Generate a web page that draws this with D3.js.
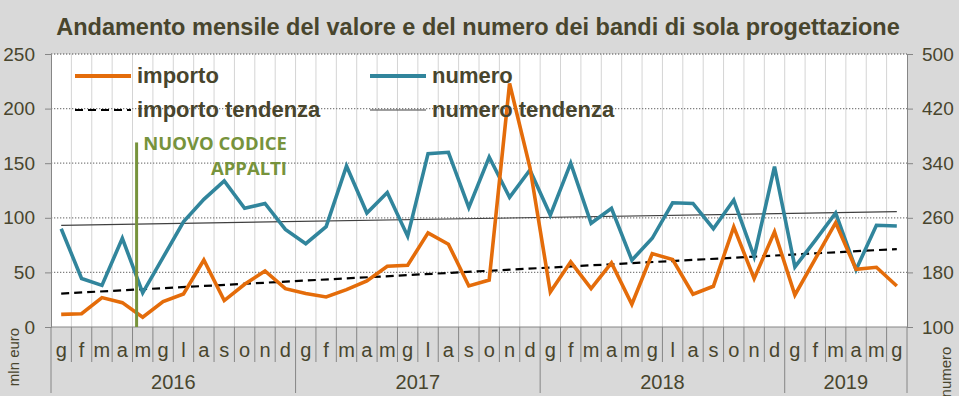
<!DOCTYPE html>
<html>
<head>
<meta charset="utf-8">
<script src="https://cdn.jsdelivr.net/npm/d3@7"></script>
<style>
  body { margin: 0; background: #d9d9d9; }
  svg { display: block; font-family: "Liberation Sans", Arial, sans-serif; }
</style>
</head>
<body>
<svg width="959" height="396"></svg>
<script>
const monthLabels = ["g","f","m","a","m","g","l","a","s","o","n","d"];
const years = ["2016", "2017", "2018", "2019"];
const monthsPerYear = [12, 12, 12, 6];

// mln euro
const importo = [
  11.6, 12.2, 26.9, 22.3, 8.9, 23.2, 30.2, 61.4, 24.2, 39.1, 51.3, 35.1,
  30.6, 27.5, 34.2, 42.2, 55.6, 56.5, 86.2, 75.8, 37.6, 43, 223, 146,
  32, 59.7, 35.1, 58.7, 20.8, 67.2, 61.7, 30, 37.3, 91.7, 44.3, 87.1,
  29.3, 62.4, 95.5, 52.8, 54.7, 37.5
];
// numero bandi
const numero = [
  244, 171, 161, 230, 150, 202, 254, 287, 314, 274, 281, 243,
  222, 247, 336, 267, 297, 233, 354, 356, 275, 349, 290, 330,
  264, 340, 252, 274, 198, 230, 282, 281, 244, 286, 203, 335,
  188, 227, 267, 184, 249, 248
];
// trend lines: first and last month
const importoTrend = [30.6, 71.4];
const numeroTrend = [249, 269];

const leftTicks = [0, 50, 100, 150, 200, 250];
const rightTicks = [100, 180, 260, 340, 420, 500];
const codiceMonth = 3.7; // new code: april 2016

const svg = d3.select("svg");
const W = 959, H = 396;
const plot = { left: 51, right: 907, top: 54, bottom: 327 };
const textColor = "#48452d";
const orange = "#e46c0a";
const blue = "#31859c";

svg.append("rect").attr("width", W).attr("height", H).attr("fill", "#d9d9d9");

const idx = d3.range(importo.length);
const x = d3.scaleBand().domain(idx).range([plot.left, plot.right]);
const cx = i => x(i) + x.bandwidth() / 2;
const xPos = d3.scaleLinear().domain([0, idx.length - 1]).range([cx(0), cx(idx.length - 1)]);
const yL = d3.scaleLinear().domain([0, 250]).range([plot.bottom, plot.top]);
const yR = d3.scaleLinear().domain([100, 500]).range([plot.bottom, plot.top]);

svg.append("rect")
  .attr("x", plot.left).attr("y", plot.top)
  .attr("width", plot.right - plot.left).attr("height", plot.bottom - plot.top)
  .attr("fill", "#fff");

// vertical month gridlines
svg.append("g").selectAll("line")
  .data(idx.slice(1))
  .join("line")
  .attr("x1", d => x(d)).attr("x2", d => x(d))
  .attr("y1", plot.top).attr("y2", plot.bottom)
  .attr("stroke", "#d4d4d4").attr("stroke-width", 1);

// horizontal dotted gridlines
svg.append("g").selectAll("line")
  .data(leftTicks.slice(1))
  .join("line")
  .attr("x1", plot.left).attr("x2", plot.right)
  .attr("y1", d => yL(d)).attr("y2", d => yL(d))
  .attr("stroke", "#808080").attr("stroke-width", 1.3)
  .attr("stroke-dasharray", "1.3,1.7");

// left axis
const gL = svg.append("g")
  .attr("transform", `translate(${plot.left},0)`)
  .call(d3.axisLeft(yL).tickValues(leftTicks).tickSize(6).tickPadding(10));
gL.select(".domain").attr("stroke", "#868686");
gL.selectAll(".tick line").attr("stroke", "#868686");
gL.selectAll("text").attr("fill", textColor).style("font-size", "19px")
  .style("font-family", "Liberation Sans, Arial, sans-serif");

// right axis
const gR = svg.append("g")
  .attr("transform", `translate(${plot.right},0)`)
  .call(d3.axisRight(yR).tickValues(rightTicks).tickSize(6).tickPadding(9));
gR.select(".domain").attr("stroke", "#868686");
gR.selectAll(".tick line").attr("stroke", "#868686");
gR.selectAll("text").attr("fill", textColor).style("font-size", "19px")
  .style("font-family", "Liberation Sans, Arial, sans-serif");

// bottom category axis
svg.append("line")
  .attr("x1", plot.left).attr("x2", plot.right)
  .attr("y1", plot.bottom).attr("y2", plot.bottom)
  .attr("stroke", "#868686");

const yearStart = monthsPerYear.map((n, k) => d3.sum(monthsPerYear.slice(0, k)));
const yearEdges = yearStart.concat([idx.length]);

svg.append("g").selectAll("line")
  .data(idx.slice(1).filter(i => !yearEdges.includes(i)))
  .join("line")
  .attr("x1", d => x(d)).attr("x2", d => x(d))
  .attr("y1", plot.bottom).attr("y2", 362)
  .attr("stroke", "#868686");

svg.append("g").selectAll("line")
  .data(yearEdges)
  .join("line")
  .attr("x1", d => d < idx.length ? x(d) : plot.right)
  .attr("x2", d => d < idx.length ? x(d) : plot.right)
  .attr("y1", plot.bottom).attr("y2", 393)
  .attr("stroke", "#868686");

svg.append("g").selectAll("text")
  .data(idx)
  .join("text")
  .attr("x", d => cx(d)).attr("y", 357)
  .attr("text-anchor", "middle")
  .attr("fill", textColor)
  .style("font-size", "20px")
  .text(d => monthLabels[d % 12]);

svg.append("g").selectAll("text")
  .data(years)
  .join("text")
  .attr("x", (d, k) => (x(yearStart[k]) + (yearEdges[k + 1] < idx.length ? x(yearEdges[k + 1]) : plot.right)) / 2)
  .attr("y", 389)
  .attr("text-anchor", "middle")
  .attr("fill", textColor)
  .style("font-size", "20px")
  .text(d => d);

// axis titles
svg.append("text")
  .attr("transform", "translate(19,357) rotate(-90)")
  .attr("text-anchor", "middle").attr("fill", textColor)
  .style("font-size", "15px").text("mln euro");
svg.append("text")
  .attr("transform", "translate(951,372) rotate(-90)")
  .attr("text-anchor", "middle").attr("fill", textColor)
  .style("font-size", "15px").text("numero");

// trend lines
svg.append("line")
  .attr("x1", cx(0)).attr("x2", cx(idx.length - 1))
  .attr("y1", yR(numeroTrend[0])).attr("y2", yR(numeroTrend[1]))
  .attr("stroke", "#404040").attr("stroke-width", 1.2);
svg.append("line")
  .attr("x1", cx(0)).attr("x2", cx(idx.length - 1))
  .attr("y1", yL(importoTrend[0])).attr("y2", yL(importoTrend[1]))
  .attr("stroke", "#000").attr("stroke-width", 2.2)
  .attr("stroke-dasharray", "8,5");

// data lines
svg.append("path")
  .datum(numero)
  .attr("fill", "none").attr("stroke", blue).attr("stroke-width", 3.6)
  .attr("stroke-linejoin", "miter")
  .attr("d", d3.line().x((d, i) => cx(i)).y(d => yR(d)));

svg.append("path")
  .datum(importo)
  .attr("fill", "none").attr("stroke", orange).attr("stroke-width", 3.6)
  .attr("stroke-linejoin", "miter")
  .attr("d", d3.line().x((d, i) => cx(i)).y(d => yL(d)));

// nuovo codice appalti marker
svg.append("line")
  .attr("x1", xPos(codiceMonth)).attr("x2", xPos(codiceMonth))
  .attr("y1", yL(169)).attr("y2", plot.bottom)
  .attr("stroke", "#77933c").attr("stroke-width", 3);
const codice = svg.append("text")
  .attr("text-anchor", "end").attr("fill", "#77933c")
  .style("font-family", "Open Sans, sans-serif")
  .style("font-size", "18.5px").style("font-weight", 700);
codice.append("tspan").attr("x", 287).attr("y", 150).text("NUOVO CODICE");
codice.append("tspan").attr("x", 287).attr("y", 175).text("APPALTI");

// legend
const legend = [
  { label: "importo", x: 75, y: 76, stroke: orange, width: 4, dash: null },
  { label: "numero", x: 370, y: 76, stroke: blue, width: 4, dash: null },
  { label: "importo tendenza", x: 75, y: 110, stroke: "#000", width: 2.2, dash: "8,5" },
  { label: "numero tendenza", x: 370, y: 110, stroke: "#404040", width: 1.2, dash: null }
];
const lg = svg.append("g").selectAll("g").data(legend).join("g");
lg.append("line")
  .attr("x1", d => d.x).attr("x2", d => d.x + 56)
  .attr("y1", d => d.y).attr("y2", d => d.y)
  .attr("stroke", d => d.stroke).attr("stroke-width", d => d.width)
  .attr("stroke-dasharray", d => d.dash);
lg.append("text")
  .attr("x", d => d.x + 62).attr("y", d => d.y + 7)
  .attr("fill", textColor)
  .style("font-size", "22px").style("font-weight", 700)
  .text(d => d.label);

// title
svg.append("text")
  .attr("x", 478).attr("y", 35)
  .attr("text-anchor", "middle")
  .attr("fill", textColor)
  .style("font-size", "23.5px").style("font-weight", 700)
  .text("Andamento mensile del valore e del numero dei bandi di sola progettazione");
</script>
</body>
</html>
